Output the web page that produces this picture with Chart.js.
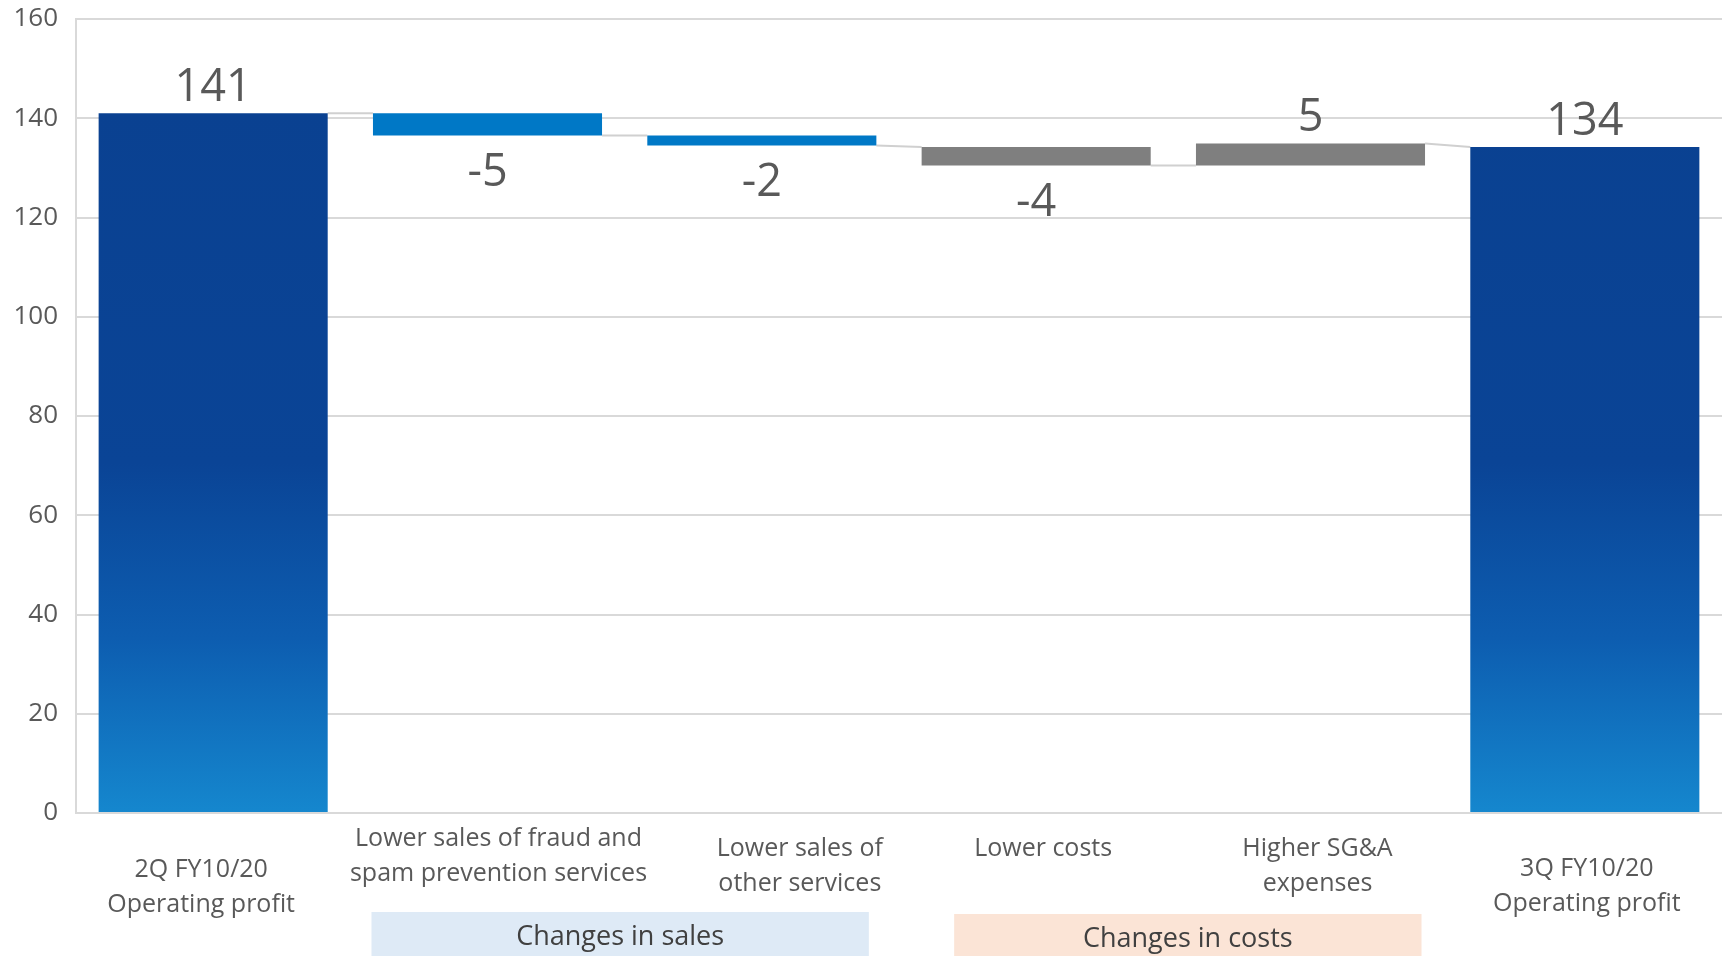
<!DOCTYPE html>
<html><head><meta charset="utf-8">
<script src="https://cdn.jsdelivr.net/npm/chart.js@4.4.1/dist/chart.umd.min.js"></script>
<style>html,body{margin:0;padding:0;background:#fff;}#wrap{width:1725px;height:956px;position:relative;}</style>
</head><body><div id="wrap"><canvas id="c"></canvas></div>
<script>
// ---- data ----
const categories = [
  ["2Q FY10/20", "Operating profit"],
  ["Lower sales of fraud and", "spam prevention services"],
  ["Lower sales of", "other services"],
  ["Lower costs"],
  ["Higher SG&A", "expenses"],
  ["3Q FY10/20", "Operating profit"]
];
const startValues = [0, 141, 136.5, 134.2, 130.5, 0];
const endValues   = [141, 136.5, 134.5, 130.5, 134.9, 134.2];
const valueLabels = ["141", "-5", "-2", "-4", "5", "134"];
const barKinds    = ["total", "sales", "sales", "cost", "cost", "total"];
const groupNames  = ["Changes in sales", "Changes in costs"];
const groupSpans  = [[1, 2], [3, 4]];
const yMin = 0, yMax = 160, yStep = 20;

// ---- style ----
const FONT = "'Open Sans', 'Noto Sans', sans-serif";
const kindColors = { sales: "#0078C6", cost: "#7F7F7F" };
const xLabelDx = [-12, 11, 38, 7, 7, 2];
const xLabelDy = [57, 26, 36, 36, 36, 56];
const xLineSpacing = 35;
const groupStyle = [
  { left: -116, right: 107, top: 912, fill: "#DEEAF6", textY: 937 },
  { left: -82, right: 111, top: 914, fill: "#FBE4D6", textY: 939 }
];

function totalGradient(ctx) {
  const chart = ctx.chart;
  const area = chart.chartArea;
  if (!area) return "#0A4294";
  const ys = chart.scales.y;
  const top = ys.getPixelForValue(141), bot = ys.getPixelForValue(0);
  const g = chart.ctx.createLinearGradient(0, top, 0, bot);
  g.addColorStop(0, "#0A4191");
  g.addColorStop(0.5, "#0A4496");
  g.addColorStop(0.75, "#0D5DB0");
  g.addColorStop(1, "#1587CE");
  return g;
}

const waterfallPlugin = {
  id: "waterfall",
  beforeDatasetsDraw(chart) {
    const c = chart.ctx, ys = chart.scales.y;
    const meta = chart.getDatasetMeta(0);
    c.save();
    c.strokeStyle = "#D0D0D0";
    c.lineWidth = 2;
    for (let i = 0; i < meta.data.length - 1; i++) {
      const a = meta.data[i], b = meta.data[i + 1];
      const yA = ys.getPixelForValue(endValues[i]);
      const yB = ys.getPixelForValue(barKinds[i + 1] === "total" ? endValues[i + 1] : startValues[i + 1]);
      c.beginPath();
      c.moveTo(a.x + a.width / 2, yA);
      c.lineTo(b.x - b.width / 2, yB);
      c.stroke();
    }
    c.restore();
  },
  afterDraw(chart) {
    const c = chart.ctx, ys = chart.scales.y, xs = chart.scales.x;
    const meta = chart.getDatasetMeta(0);
    const area = chart.chartArea;
    c.save();
    // value labels
    c.fillStyle = "#595959";
    c.font = "45px " + FONT;
    c.textAlign = "center";
    c.textBaseline = "middle";
    meta.data.forEach((el, i) => {
      const up = endValues[i] >= startValues[i];
      const hi = ys.getPixelForValue(Math.max(startValues[i], endValues[i]));
      const lo = ys.getPixelForValue(Math.min(startValues[i], endValues[i]));
      const y = up ? hi - 25 : lo + 38;
      c.fillText(valueLabels[i], el.x, y);
    });
    // group boxes
    groupSpans.forEach((sp, g) => {
      const st = groupStyle[g];
      const l = xs.getPixelForValue(sp[0]) + st.left;
      const r = xs.getPixelForValue(sp[1]) + st.right;
      c.fillStyle = st.fill;
      c.fillRect(l, st.top, r - l, 956 - st.top);
      c.fillStyle = "#404040";
      c.font = "27px " + FONT;
      c.fillText(groupNames[g], (l + r) / 2, st.textY);
    });
    // category labels
    c.fillStyle = "#595959";
    c.font = "25px " + FONT;
    categories.forEach((lines, i) => {
      const x = xs.getPixelForValue(i) + xLabelDx[i];
      lines.forEach((t, k) => {
        c.fillText(t, x, area.bottom + xLabelDy[i] + k * xLineSpacing);
      });
    });
    c.restore();
  }
};

const canvas = document.getElementById("c");
canvas.width = 1725; canvas.height = 956;
new Chart(canvas, {
  type: "bar",
  data: {
    labels: categories.map(l => l.join(" ")),
    datasets: [{
      data: categories.map((_, i) => [startValues[i], endValues[i]]),
      backgroundColor: (ctx) => {
        const k = barKinds[ctx.dataIndex];
        return k === "total" ? totalGradient(ctx) : kindColors[k];
      },
      borderWidth: 0,
      categoryPercentage: 1,
      barPercentage: 0.835
    }]
  },
  options: {
    responsive: false,
    animation: false,
    devicePixelRatio: 1,
    layout: { padding: { top: 19, right: 3, bottom: 143, left: 0 } },
    plugins: { legend: { display: false }, tooltip: { enabled: false } },
    scales: {
      x: {
        type: "category",
        offset: true,
        grid: { display: false },
        border: { display: false },
        ticks: { display: false },
        afterFit: s => { s.height = 0; s.paddingLeft = 0; s.paddingRight = 0; }
      },
      y: {
        min: yMin, max: yMax,
        ticks: { stepSize: yStep, color: "#595959", font: { family: FONT, size: 26 }, padding: 18 },
        grid: { color: "#D9D9D9", lineWidth: 2, drawTicks: false },
        border: { display: true, color: "#D9D9D9", width: 2 },
        afterFit: s => { s.width = 76; s.paddingTop = 0; s.paddingBottom = 0; }
      }
    }
  },
  plugins: [waterfallPlugin]
});
</script>
</body></html>
